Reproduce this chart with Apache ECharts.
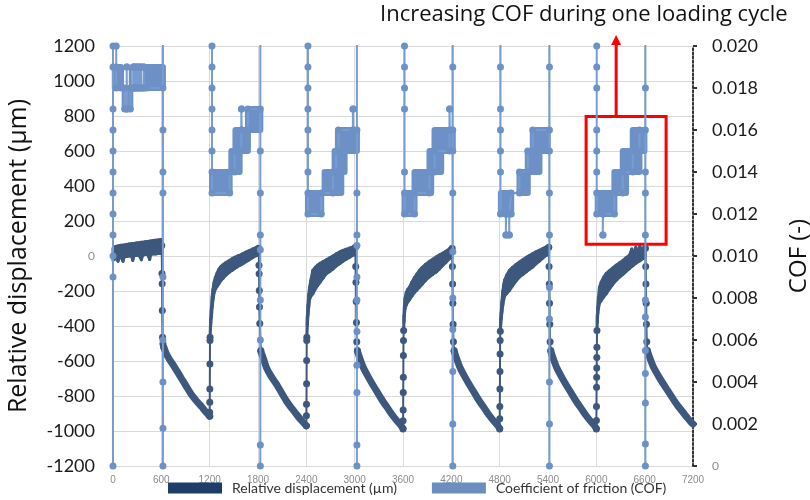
<!DOCTYPE html>
<html><head><meta charset="utf-8">
<script src="https://cdn.jsdelivr.net/npm/echarts@6/dist/echarts.min.js"></script>
<style>html,body{margin:0;padding:0;background:#fff}#c{width:810px;height:500px}</style>
</head><body><div id="c"></div>
<script>
// ---------- axes ----------
const xMin = 0, xMax = 7200, xStep = 600;
const dispMin = -1200, dispMax = 1200, dispStep = 200;
const cofMin = 0, cofMax = 0.02, cofStep = 0.002;

// ---------- Relative displacement (µm) ----------
// rising (loading) bands: [t, lower edge, upper edge]
const rise0 = [[0,-25,45],[15,-20,50],[30,-15,53],[50,-12,56],[62,-30,57],[75,-10,58],[100,-8,61],[124,-30,62],[140,-5,63],[170,-3,66],[200,0,68],[230,0,70],[245,-25,71],[260,2,72],[290,3,74],[320,5,76],[352,-22,78],[370,6,79],[400,8,81],[430,9,83],[455,-20,84],[470,10,86],[500,11,88],[530,12,90],[560,14,92],[590,15,94],[605,15,94]];
const rise1 = [[1205,-464,-464],[1212,-400,-360],[1221,-350,-300],[1232,-290,-230],[1241,-250,-190],[1255,-210,-150],[1270,-190,-125],[1290,-175,-100],[1315,-158,-75],[1340,-140,-60],[1370,-125,-48],[1400,-110,-38],[1448,-92,-25],[1480,-82,-15],[1510,-72,-8],[1545,-62,0],[1580,-52,5],[1613,-44,14],[1650,-33,22],[1690,-22,30],[1730,-10,40],[1779,2,50],[1805,5,52]];
const rise2 = [[2406,-464,-464],[2412,-400,-350],[2420,-340,-280],[2430,-290,-220],[2440,-250,-180],[2455,-230,-140],[2481,-216,-82],[2510,-190,-65],[2540,-170,-52],[2570,-150,-42],[2610,-125,-32],[2648,-101,-22],[2690,-88,-10],[2730,-75,0],[2770,-58,12],[2813,-44,23],[2850,-32,30],[2890,-20,38],[2935,-8,45],[2978,4,52],[3005,6,55]];
const rise3 = [[3608,-426,-426],[3612,-380,-340],[3618,-330,-280],[3626,-300,-240],[3640,-280,-210],[3660,-262,-190],[3681,-250,-178],[3710,-230,-150],[3740,-210,-125],[3770,-195,-105],[3805,-178,-82],[3840,-160,-65],[3880,-140,-48],[3925,-120,-32],[3970,-104,-18],[4012,-92,-6],[4050,-75,6],[4090,-56,16],[4135,-35,28],[4177,-15,42],[4205,-8,48]];
const rise4 = [[4808,-430,-430],[4812,-400,-360],[4819,-360,-320],[4828,-320,-260],[4839,-280,-200],[4850,-250,-165],[4860,-230,-139],[4890,-212,-108],[4922,-197,-82],[4960,-170,-65],[5000,-145,-50],[5046,-120,-34],[5090,-105,-20],[5130,-90,-8],[5170,-76,3],[5211,-63,14],[5250,-45,24],[5290,-30,32],[5335,-12,42],[5377,4,52],[5405,8,55]];
const rise5 = [[6008,-426,-426],[6012,-380,-340],[6018,-330,-292],[6026,-300,-240],[6039,-270,-178],[6060,-255,-150],[6090,-235,-122],[6122,-216,-101],[6160,-190,-85],[6200,-165,-70],[6246,-139,-53],[6290,-120,-38],[6330,-105,-25],[6370,-88,-10],[6411,-72,4],[6440,-60,40],[6455,-55,12],[6490,-42,50],[6510,-35,22],[6540,-28,55],[6560,-20,35],[6577,-15,42],[6605,-10,48]];
// falling (unloading) curves: [t, value]
const fall1 = [[630,-521],[662,-558],[700,-590],[750,-625],[800,-662],[850,-700],[910,-745],[970,-790],[1034,-827],[1100,-862],[1158,-894],[1200,-915]];
const fall2 = [[1835,-545],[1870,-590],[1903,-636],[1960,-685],[2027,-731],[2090,-780],[2151,-827],[2210,-865],[2275,-903],[2330,-935],[2378,-960],[2400,-970]];
const fall3 = [[3035,-545],[3070,-592],[3110,-640],[3170,-692],[3230,-740],[3290,-785],[3350,-830],[3410,-870],[3470,-910],[3530,-945],[3580,-972],[3600,-985]];
const fall4 = [[4235,-545],[4270,-592],[4310,-640],[4370,-692],[4430,-740],[4490,-785],[4550,-830],[4610,-870],[4670,-910],[4730,-945],[4780,-972],[4800,-985]];
const fall5 = [[5435,-545],[5470,-592],[5510,-640],[5570,-692],[5630,-740],[5690,-785],[5750,-830],[5810,-870],[5870,-910],[5930,-945],[5980,-972],[6000,-985]];
const fall6 = [[6635,-545],[6670,-590],[6710,-636],[6770,-685],[6830,-730],[6890,-772],[6950,-815],[7010,-855],[7070,-890],[7130,-925],[7180,-952],[7200,-960]];
// fast transitions (drops and climbs): [t, value]
const drops = [
  [[605,60],[608,-100],[610,-158],[612,-311],[615,-464],[620,-502],[630,-521]],
  [[1810,45],[1812,-53],[1814,-101],[1816,-197],[1818,-292],[1822,-386],[1835,-540]],
  [[3010,50],[3013,-60],[3016,-150],[3019,-260],[3022,-380],[3026,-490],[3035,-540]],
  [[4210,45],[4213,-60],[4216,-160],[4219,-270],[4222,-390],[4226,-490],[4235,-540]],
  [[5410,50],[5413,-60],[5416,-160],[5419,-270],[5422,-390],[5426,-490],[5435,-540]],
  [[6610,45],[6613,-60],[6616,-160],[6619,-270],[6622,-390],[6626,-490],[6635,-540]]
];
const climbs = [
  [[1200,-915],[1200,-893],[1201,-836],[1202,-760],[1203,-617],[1204,-483],[1205,-464]],
  [[2400,-970],[2401,-913],[2402,-847],[2403,-730],[2404,-597],[2405,-483],[2406,-464]],
  [[3600,-989],[3601,-941],[3602,-880],[3603,-780],[3604,-693],[3605,-569],[3606,-483],[3608,-426]],
  [[4800,-989],[4801,-930],[4802,-860],[4803,-760],[4804,-660],[4805,-560],[4806,-483],[4808,-430]],
  [[6000,-989],[6001,-940],[6002,-860],[6003,-750],[6004,-693],[6005,-640],[6006,-580],[6007,-521],[6008,-426]]
];

// ---------- Coefficient of friction (COF) ----------
const cofPath0 = [[0,0],[0,0.009],[0,0.010],[0,0.011],[0,0.012],[0,0.013],[0,0.014],[0,0.015],[0,0.016],[0,0.017],[0,0.019],[0,0.020],
  [40,0.020],[40,0.019],[40,0.018],[100,0.018],[145,0.018],[145,0.017],[170,0.017],[170,0.019],[174,0.019],[174,0.017],[215,0.017],[215,0.018],
  [250,0.018],[250,0.019],[254,0.019],[254,0.018],[268,0.018],[268,0.019],[272,0.019],[272,0.018],
  [292,0.018],[292,0.019],[296,0.019],[296,0.018],[320,0.018],[320,0.019],[324,0.019],[324,0.018],
  [347,0.018],[347,0.019],[351,0.019],[351,0.018],[380,0.018],[380,0.019],[384,0.019],[384,0.018],
  [420,0.018],[620,0.018],[620,0.0215],[620,0.016],[620,0.014],[620,0.013],[620,0.009],[620,0.006],[620,0.004],[620,0.0018],[620,0]];
const cofPath1 = [[1229,0.020],[1229,0.019],[1229,0.018],[1229,0.017],[1229,0.016],[1229,0.015],[1229,0.014],[1229,0.013],[1448,0.013],[1448,0.014],
  [1510,0.014],[1510,0.015],[1593,0.015],[1593,0.016],[1593,0.017],[1598,0.017],[1598,0.016],[1675,0.016],[1675,0.017],[1829,0.017],
  [1829,0.0215],[1829,0.015],[1829,0.013],[1829,0.011],[1829,0.0103],[1829,0.0079],[1829,0.006],[1829,0.001],[1829,0]];
const cofPath2 = [[2420,0.020],[2420,0.019],[2420,0.018],[2420,0.017],[2420,0.016],[2420,0.015],[2420,0.014],[2420,0.013],[2420,0.012],[2585,0.012],
  [2585,0.013],[2730,0.013],[2730,0.014],[2770,0.014],[2770,0.015],[2800,0.015],[2800,0.016],[2978,0.016],[2978,0.017],[2983,0.017],[2983,0.016],[3028,0.016],
  [3028,0.0215],[3028,0.013],[3028,0.011],[3028,0.0105],[3028,0.009],[3028,0.0079],[3028,0.0064],[3028,0.0048],[3028,0.0035],[3028,0.001],[3028,0]];
const cofPath3 = [[3619,0.020],[3619,0.019],[3619,0.018],[3619,0.017],[3619,0.014],[3619,0.013],[3619,0.012],[3743,0.012],[3743,0.013],[3929,0.013],
  [3929,0.014],[3991,0.014],[3991,0.015],[4177,0.015],[4177,0.017],[4182,0.017],[4182,0.016],[4218,0.016],
  [4218,0.0215],[4218,0.019],[4218,0.015],[4218,0.013],[4218,0.0102],[4218,0.008],[4218,0.0065],[4218,0.0045],[4218,0.002],[4218,0]];
const cofPath4 = [[4810,0.0215],[4810,0.019],[4810,0.017],[4810,0.016],[4810,0.015],[4810,0.014],[4810,0.012],[4877,0.012],[4877,0.011],[4880,0.011],[4880,0.012],
  [4918,0.012],[4918,0.011],[4921,0.011],[4921,0.012],[4943,0.012],[4943,0.013],[5046,0.013],[5046,0.014],[5149,0.014],[5149,0.015],[5211,0.015],[5211,0.016],[5418,0.016],
  [5418,0.0215],[5418,0.019],[5418,0.015],[5418,0.013],[5418,0.011],[5418,0.0085],[5418,0.007],[5418,0.004],[5418,0.002],[5418,0]];
const cofPath5 = [[6005,0.020],[6005,0.019],[6005,0.018],[6005,0.016],[6005,0.015],[6005,0.014],[6005,0.013],[6005,0.012],[6080,0.012],[6080,0.011],[6083,0.011],[6083,0.012],
  [6224,0.012],[6224,0.013],[6328,0.013],[6328,0.014],[6452,0.014],[6452,0.015],[6535,0.015],[6535,0.016],[6609,0.016],
  [6609,0.0215],[6609,0.018],[6609,0.014],[6609,0.013],[6609,0.011],[6609,0.0079],[6609,0.0071],[6609,0.0055],[6609,0.0044],[6609,0.003],[6609,0.00105],[6609,0]];
// dense switching regions: [tStart, tEnd, low level, high level]
const cofDense = [[22,100,0.018,0.019],[145,215,0.017,0.018],[420,620,0.018,0.019],
  [1229,1448,0.013,0.014],[1469,1572,0.014,0.015],[1520,1675,0.015,0.016],[1675,1829,0.016,0.017],
  [2420,2585,0.012,0.013],[2627,2834,0.013,0.014],[2751,2875,0.014,0.015],[2792,3028,0.015,0.016],
  [3619,3743,0.012,0.013],[3743,3950,0.013,0.014],[3929,4074,0.014,0.015],[3991,4218,0.015,0.016],
  [4815,4943,0.012,0.013],[5046,5149,0.013,0.014],[5149,5294,0.014,0.015],[5211,5397,0.015,0.016],
  [6017,6224,0.012,0.013],[6224,6369,0.013,0.014],[6328,6535,0.014,0.015],[6452,6597,0.015,0.016]];
// sparse switching region (ladder)
const cofLadder = [[215,420,0.018,0.019]];

// ---------- annotation ----------
const annotText = 'Increasing COF during one loading cycle';
const annotBox = [5873, 6866, 67, 797]; // t1, t2, displacement low, high
const annotArrowT = 6246;

// ---------- build ----------
const GAP = '-';
function joinSegs(segs) {
  const out = [];
  segs.forEach((s, i) => { if (i) out.push([s[0][0], GAP]); s.forEach(p => out.push(p)); });
  return out;
}
function quads(arr) { // consecutive band entries -> quadrilateral items
  const out = [];
  for (let i = 0; i < arr.length - 1; i++) out.push(arr[i].concat(arr[i + 1]));
  return out;
}
const DARK = '#3e587d', LIGHT = '#779dd0', LIGHTM = '#6d91c6';
const NAME1 = 'Relative displacement (µm)', NAME2 = 'Coefficient of friction (COF)';
const FONT = 'Open Sans';

const chart = echarts.init(document.getElementById('c'), null, {renderer: 'canvas'});
const rectItem = (fill, lw) => (params, api) => {
  const p1 = api.coord([api.value(0), api.value(3)]);
  const p2 = api.coord([api.value(1), api.value(2)]);
  return {type: 'rect', shape: {x: p1[0], y: p1[1], width: p2[0] - p1[0], height: p2[1] - p1[1]},
    style: {fill: fill, stroke: LIGHTM, lineWidth: lw, lineJoin: 'round'}};
};
const bandItem = (params, api) => {
  const a = api.coord([api.value(0), api.value(1)]);
  const b = api.coord([api.value(0), api.value(2)]);
  const c = api.coord([api.value(3), api.value(5)]);
  const d = api.coord([api.value(3), api.value(4)]);
  return {type: 'polygon', shape: {points: [a, b, c, d]},
    style: {fill: DARK, stroke: DARK, lineWidth: 3, lineJoin: 'round'}};
};

chart.setOption({
  animation: false,
  backgroundColor: '#fff',
  textStyle: {fontFamily: FONT},
  grid: {left: 113, right: 117, top: 46, bottom: 34, containLabel: false, outerBoundsMode: 'none'},
  legend: {
    left: 168, top: 481, padding: 0, icon: 'rect', itemWidth: 54, itemHeight: 11, itemGap: 35, selectedMode: false,
    textStyle: {fontSize: 14, color: '#333', fontFamily: 'Lato', padding: [0, 0, 0, 5]},
    data: [{name: NAME1, itemStyle: {color: '#1f3d6b'}}, {name: NAME2, itemStyle: {color: '#6c8ebf'}}]
  },
  xAxis: {
    type: 'value', min: xMin, max: xMax, interval: xStep,
    axisLine: {show: true, onZero: true, onZeroAxisIndex: 0, lineStyle: {color: '#d9d9d9'}},
    axisTick: {show: false},
    axisLabel: {fontSize: 10, color: '#8c8c8c', margin: 9, fontFamily: 'Liberation Sans Narrow, Liberation Sans',
      formatter: v => String(v)},
    splitLine: {show: true, lineStyle: {color: '#d9d9d9', width: 1}}
  },
  yAxis: [{
    type: 'value', min: dispMin, max: dispMax, interval: dispStep, position: 'left',
    name: NAME1, nameLocation: 'middle', nameGap: 82, nameRotate: 90,
    nameTextStyle: {fontSize: 25, color: '#111', fontFamily: FONT},
    axisLine: {show: true, lineStyle: {color: '#111', width: 2}},
    axisTick: {show: false},
    axisLabel: {fontSize: 18, color: '#1a1a1a', margin: 18, fontFamily: 'Lato',
      formatter: v => v === 0 ? '{z|0}' : String(v),
      rich: {z: {fontSize: 12, color: '#8c8c8c', fontFamily: 'Lato'}}},
    splitLine: {show: true, lineStyle: {color: '#d9d9d9', width: 1}}
  }, {
    type: 'value', min: cofMin, max: cofMax, interval: cofStep, position: 'right',
    name: 'COF (-)', nameLocation: 'middle', nameGap: 94, nameRotate: 90,
    nameTextStyle: {fontSize: 24, color: '#111', fontFamily: FONT},
    axisLine: {show: true, lineStyle: {color: '#333', width: 2, type: [2, 2.2]}},
    axisTick: {show: true, length: 4, lineStyle: {color: '#333', width: 2}},
    axisLabel: {fontSize: 18, color: '#1a1a1a', margin: 19, fontFamily: 'Lato',
      formatter: v => v === 0 ? '{z|0}' : v.toFixed(3),
      rich: {z: {fontSize: 12, color: '#8c8c8c', fontFamily: 'Lato'}}},
    splitLine: {show: false}
  }],
  series: [
    {name: NAME1, type: 'custom', yAxisIndex: 0, data: [rise0, rise1, rise2, rise3, rise4, rise5].map(quads).flat(),
      renderItem: bandItem, encode: {x: [0, 3], y: [1, 2, 4, 5]}, itemStyle: {color: DARK}, z: 2},
    {name: NAME1, type: 'line', yAxisIndex: 0, data: joinSegs([fall1, fall2, fall3, fall4, fall5, fall6]),
      showSymbol: false, smooth: 0.2, lineStyle: {color: DARK, width: 7, cap: 'round'}, itemStyle: {color: DARK}, z: 2, connectNulls: false},
    {name: NAME1, type: 'line', yAxisIndex: 0, data: joinSegs(drops.concat(climbs)),
      symbol: 'circle', symbolSize: 7, showSymbol: true, lineStyle: {color: DARK, width: 2}, itemStyle: {color: DARK}, z: 3, connectNulls: false,
      markArea: {silent: true, itemStyle: {color: 'rgba(0,0,0,0)', borderColor: '#ff0000', borderWidth: 3},
        data: [[{coord: [annotBox[0], annotBox[3]]}, {coord: [annotBox[1], annotBox[2]]}]]}},
    {name: NAME2, type: 'custom', yAxisIndex: 1, data: cofDense, renderItem: rectItem(LIGHTM, 6),
      encode: {x: [0, 1], y: [2, 3]}, z: 4, itemStyle: {color: LIGHTM}},
    {name: NAME2, type: 'custom', yAxisIndex: 1, data: cofLadder, renderItem: rectItem('rgba(0,0,0,0)', 3),
      encode: {x: [0, 1], y: [2, 3]}, z: 4, itemStyle: {color: LIGHTM}},
    {name: NAME2, type: 'line', yAxisIndex: 1, data: joinSegs([cofPath0, cofPath1, cofPath2, cofPath3, cofPath4, cofPath5]),
      symbol: 'circle', symbolSize: 7, showSymbol: true, lineStyle: {color: LIGHT, width: 2}, itemStyle: {color: LIGHTM}, z: 5, connectNulls: false, clip: true}
  ]
});

// annotation arrow and text, positioned through the axes
const pTop = chart.convertToPixel({xAxisIndex: 0, yAxisIndex: 0}, [annotArrowT, annotBox[3]]);
const ax = pTop[0];
chart.setOption({
  graphic: [
    {type: 'line', shape: {x1: ax, y1: pTop[1], x2: ax, y2: 43}, style: {stroke: '#ff0000', lineWidth: 3}, z: 100},
    {type: 'polygon', shape: {points: [[ax, 35], [ax - 5, 45], [ax + 5, 45]]}, style: {fill: '#ff0000'}, z: 100},
    {type: 'text', left: 380, top: 4, style: {text: annotText, fontSize: 22, fontFamily: FONT, fill: '#111'}, z: 100}
  ]
});
</script></body></html>
